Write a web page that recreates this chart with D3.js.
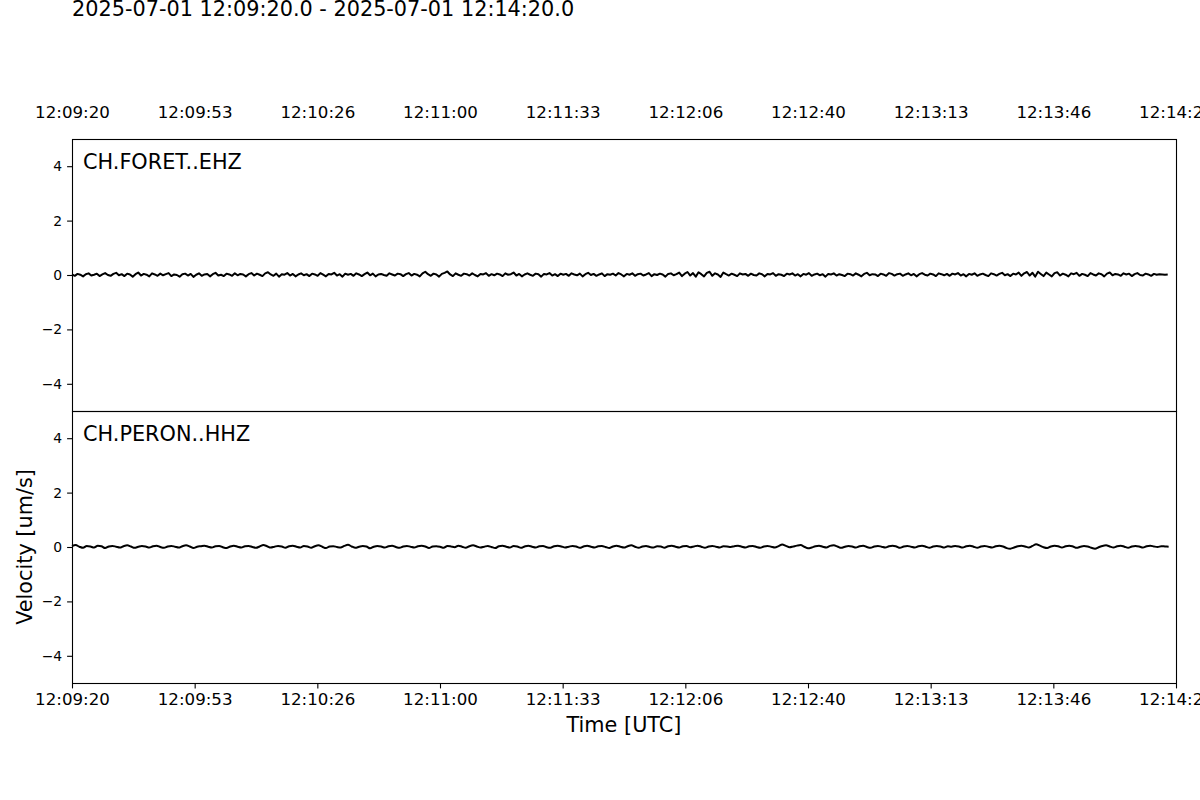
<!DOCTYPE html>
<html>
<head>
<meta charset="utf-8">
<script src="https://cdn.jsdelivr.net/npm/d3@7"></script>
<style>
  html, body { margin: 0; padding: 0; background: #fff; }
  svg { display: block; font-family: "DejaVu Sans", sans-serif; }
</style>
</head>
<body>
<svg id="chart" width="1200" height="800"></svg>
<script>
// ---------------- data ----------------
const titleText = "2025-07-01 12:09:20.0 - 2025-07-01 12:14:20.0";
const stations = ["CH.FORET..EHZ", "CH.PERON..HHZ"];
const startTime = "2025-07-01T12:09:20Z";
const durationSec = 300;
const tickOffsetsSec = [0, 33.333, 66.667, 100, 133.333, 166.667, 200, 233.333, 266.667, 300];
const tickLabels = ["12:09:20", "12:09:53", "12:10:26", "12:11:00", "12:11:33",
                    "12:12:06", "12:12:40", "12:13:13", "12:13:46", "12:14:20"];
const yTicks = [-4, -2, 0, 2, 4];
const yDomain = [-5, 5];
const xLabel = "Time [UTC]";
const yLabel = "Velocity [um/s]";

// sample interval (s) of each trace as plotted
const dtForet = 0.75;
const dtPeron = 1.0;

// CH.FORET..EHZ velocity [um/s]
const foretValues = [
 0.02,-0.03,0.04,0.01,-0.05,0.03,0.06,-0.02,0.01,0.05,-0.04,0.02,0.07,0.00,-0.03,0.04,0.08,-0.01,0.03,-0.04,
 0.05,0.02,-0.06,0.03,0.09,-0.02,0.04,0.01,-0.05,0.06,0.02,-0.03,0.05,-0.01,0.03,0.07,-0.04,0.02,0.00,-0.06,
 0.03,0.05,-0.02,0.04,-0.07,0.01,0.06,-0.03,0.02,0.04,-0.05,0.03,0.08,-0.02,0.01,-0.04,0.05,0.02,-0.03,0.06,
 -0.01,0.04,0.02,-0.05,0.03,0.07,-0.02,0.05,0.01,-0.04,0.06,0.10,0.02,-0.03,0.05,-0.06,0.03,0.01,0.07,-0.02,
 0.04,-0.05,0.02,0.06,-0.01,0.03,-0.04,0.05,0.02,-0.03,0.07,0.01,-0.05,0.04,0.02,0.08,-0.02,0.03,-0.06,0.05,
 0.01,0.04,-0.03,0.06,0.02,-0.04,0.03,0.09,-0.01,0.05,-0.05,0.02,0.04,0.00,-0.03,0.06,0.02,-0.02,0.05,0.03,
 -0.04,0.03,0.07,-0.02,0.04,0.01,-0.05,0.06,0.12,0.03,-0.03,0.05,0.02,-0.06,0.04,0.08,0.13,0.02,-0.04,0.06,
 0.01,-0.03,0.05,0.03,-0.02,0.06,0.00,-0.05,0.04,0.02,0.07,-0.03,0.03,-0.01,0.05,0.02,-0.04,0.06,0.01,0.03,
 0.09,-0.02,0.04,-0.05,0.02,0.06,0.01,-0.03,0.05,0.03,-0.06,0.04,0.02,0.07,-0.02,0.03,-0.04,0.05,0.01,0.04,
 -0.03,0.06,0.02,-0.01,0.05,-0.05,0.03,0.08,0.00,0.04,-0.03,0.02,0.06,-0.04,0.03,0.01,0.05,-0.02,0.07,0.02,
 -0.05,0.04,0.01,0.06,-0.03,0.03,0.05,-0.02,0.02,0.07,-0.04,0.03,0.00,0.05,0.02,-0.06,0.04,0.06,-0.01,0.03,
 0.09,-0.04,0.05,0.11,-0.02,0.07,-0.06,0.10,0.03,-0.05,0.08,0.12,-0.03,0.06,0.02,-0.07,0.09,0.03,-0.02,0.05,
 0.01,-0.04,0.06,0.02,0.04,-0.03,0.05,0.00,-0.02,0.06,0.03,-0.05,0.04,0.02,0.07,-0.03,0.03,0.01,-0.04,0.05,
 0.02,0.06,-0.02,0.03,-0.05,0.04,0.01,0.07,-0.03,0.02,0.05,-0.01,0.03,-0.06,0.04,0.02,0.06,-0.02,0.03,0.00,
 -0.04,0.05,0.03,-0.02,0.06,0.01,-0.05,0.04,0.08,-0.01,0.03,0.02,-0.04,0.05,0.02,-0.03,0.07,0.04,-0.02,0.03,
 0.05,-0.03,0.02,0.06,-0.01,0.04,-0.05,0.03,0.07,0.01,-0.02,0.05,0.02,-0.04,0.06,0.03,-0.01,0.04,-0.03,0.05,
 0.02,0.07,-0.02,0.03,-0.05,0.04,0.01,0.06,-0.03,0.02,0.05,0.00,-0.04,0.06,0.03,-0.02,0.04,0.08,-0.01,0.03,
 -0.04,0.05,0.02,0.09,-0.03,0.06,0.11,-0.02,0.08,-0.06,0.12,0.04,-0.04,0.09,0.02,-0.05,0.07,0.10,-0.02,0.05,
 0.01,-0.05,0.06,0.03,0.08,-0.03,0.04,0.01,-0.04,0.07,0.02,-0.02,0.06,0.03,-0.05,0.05,0.09,-0.01,0.04,0.02,
 -0.03,0.06,0.02,0.05,-0.04,0.03,0.07,0.00,-0.02,0.05,0.02,-0.03,0.04,0.01,0.03,0.02,0.01,0.02
];

// CH.PERON..HHZ velocity [um/s]
const peronValues = [
 0.03,0.07,0.01,-0.03,0.04,0.02,-0.02,0.05,0.03,-0.04,0.02,0.04,0.01,-0.02,0.03,0.06,0.02,-0.03,0.01,0.04,
 0.02,-0.02,0.03,0.05,0.00,-0.03,0.02,0.04,0.01,-0.02,0.03,0.06,0.02,-0.04,0.01,0.03,0.05,0.01,-0.02,0.03,
 0.04,-0.01,-0.04,0.02,0.05,0.01,-0.02,0.03,0.04,0.00,-0.03,0.02,0.07,0.03,-0.02,0.01,0.04,0.02,-0.03,0.03,
 0.05,0.01,-0.02,0.04,0.02,-0.03,0.03,0.06,0.01,-0.04,0.02,0.03,0.00,-0.02,0.04,0.08,0.02,-0.03,0.01,0.04,
 0.02,-0.05,0.01,0.04,0.02,-0.02,0.03,0.05,0.00,-0.03,0.02,0.04,0.01,-0.02,0.03,0.05,0.02,-0.04,0.02,0.03,
 0.01,-0.03,0.04,0.02,-0.01,0.05,0.01,-0.03,0.03,0.06,0.02,-0.02,0.01,0.04,0.00,-0.04,0.03,0.05,0.01,-0.02,
 0.04,0.02,-0.03,0.02,0.05,0.01,-0.02,0.03,0.04,-0.01,-0.03,0.03,0.05,0.02,-0.02,0.01,0.04,0.02,-0.03,0.02,
 0.05,0.01,-0.02,0.03,0.04,0.00,-0.04,0.02,0.05,0.01,-0.02,0.03,0.06,0.01,-0.03,0.02,0.04,0.00,-0.02,0.03,
 0.02,-0.03,0.03,0.05,0.01,-0.02,0.03,0.04,-0.01,0.02,0.05,0.01,-0.03,0.02,0.04,0.01,-0.02,0.03,0.02,0.00,
 0.03,0.05,0.01,-0.02,0.03,0.04,0.00,-0.03,0.02,0.04,0.01,-0.02,0.03,0.09,0.04,-0.01,0.02,0.05,0.07,0.01,
 -0.05,-0.02,0.03,0.05,0.01,-0.02,0.04,0.06,0.02,-0.03,0.01,0.04,0.02,-0.02,0.03,0.05,0.00,-0.03,0.02,0.04,
 0.01,-0.02,0.03,0.05,0.02,-0.03,0.02,0.04,0.01,-0.02,0.03,0.05,0.01,-0.03,0.02,0.04,0.02,-0.02,0.03,0.01,
 0.04,0.02,-0.02,0.03,0.05,0.01,-0.03,0.02,0.04,0.01,-0.02,0.03,0.05,0.02,-0.04,-0.06,-0.02,0.03,0.05,0.02,
 -0.02,0.04,0.10,0.05,-0.01,-0.04,0.02,0.05,0.03,-0.02,0.03,0.05,0.02,-0.03,0.01,0.04,0.02,-0.03,-0.06,-0.01,
 0.04,0.06,0.02,-0.02,0.03,0.05,0.01,-0.03,0.02,0.04,0.02,-0.02,0.03,0.05,0.02,0.00,0.03,0.02,0.01
];

// ---------------- drawing ----------------
const svg = d3.select("#chart");
const left = 72, right = 1176;
const panelTops = [139, 411];
const panelH = 272;
const t0 = new Date(startTime).getTime();

const x = d3.scaleUtc()
  .domain([new Date(t0), new Date(t0 + durationSec * 1000)])
  .range([left, right]);
const tickDates = tickOffsetsSec.map(s => new Date(t0 + s * 1000));
const fmt = d => tickLabels[tickDates.findIndex(t => +t === +d)];

// title
svg.append("text")
  .attr("x", left).attr("y", 16)
  .attr("font-size", "20.8px")
  .text(titleText);

const series = [
  { name: stations[0], values: foretValues, dt: dtForet, curve: d3.curveLinear },
  { name: stations[1], values: peronValues, dt: dtPeron, curve: d3.curveMonotoneX }
];

series.forEach((s, i) => {
  const top = panelTops[i];
  const y = d3.scaleLinear().domain(yDomain).range([top + panelH, top]);

  // trace
  const pts = s.values.map((v, k) => ({ t: new Date(t0 + k * s.dt * 1000), v }));
  const line = d3.line().x(d => x(d.t)).y(d => y(d.v)).curve(s.curve);
  svg.append("path")
    .datum(pts)
    .attr("d", line)
    .attr("fill", "none")
    .attr("stroke", "#000")
    .attr("stroke-width", 2.0)
    .attr("stroke-linejoin", "round");

  // y axis
  const yAxis = d3.axisLeft(y)
    .tickValues(yTicks)
    .tickSize(4.9)
    .tickPadding(4.9)
    .tickFormat(d => (d < 0 ? "\u2212" + Math.abs(d) : String(d)));
  const gy = svg.append("g").attr("transform", `translate(${left},0)`).call(yAxis);
  gy.select(".domain").remove();
  gy.selectAll("text").attr("font-size", "13.9px").attr("font-family", "DejaVu Sans").attr("fill", "#000");
  gy.selectAll("line").attr("stroke", "#000").attr("stroke-width", 1.1);

  // frame
  svg.append("rect")
    .attr("x", left + 0.5).attr("y", top + 0.5)
    .attr("width", right - left).attr("height", panelH)
    .attr("fill", "none").attr("stroke", "#000").attr("stroke-width", 1.1);

  // station label
  svg.append("text")
    .attr("x", 83).attr("y", top + 30)
    .attr("font-size", "20.8px")
    .text(s.name);
});

// bottom x axis
const xAxisB = d3.axisBottom(x).tickValues(tickDates).tickFormat(fmt).tickSize(4.9).tickPadding(4.9);
const gxb = svg.append("g").attr("transform", `translate(0,${panelTops[1] + panelH + 0.5})`).call(xAxisB);
gxb.select(".domain").remove();
gxb.selectAll("text").attr("font-size", "16.67px").attr("font-family", "DejaVu Sans").attr("fill", "#000");
gxb.selectAll("line").attr("stroke", "#000").attr("stroke-width", 1.1);

// top x labels (no tick marks)
const xAxisT = d3.axisTop(x).tickValues(tickDates).tickFormat(fmt).tickSize(0).tickPadding(21);
const gxt = svg.append("g").attr("transform", `translate(0,${panelTops[0]})`).call(xAxisT);
gxt.select(".domain").remove();
gxt.selectAll("line").remove();
gxt.selectAll("text").attr("font-size", "16.67px").attr("font-family", "DejaVu Sans").attr("fill", "#000");

// axis labels
svg.append("text")
  .attr("x", (left + right) / 2).attr("y", 732)
  .attr("text-anchor", "middle")
  .attr("font-size", "20.8px")
  .text(xLabel);

svg.append("text")
  .attr("transform", `translate(32,${panelTops[1] + panelH / 2}) rotate(-90)`)
  .attr("text-anchor", "middle")
  .attr("font-size", "20.8px")
  .text(yLabel);
</script>
</body>
</html>
